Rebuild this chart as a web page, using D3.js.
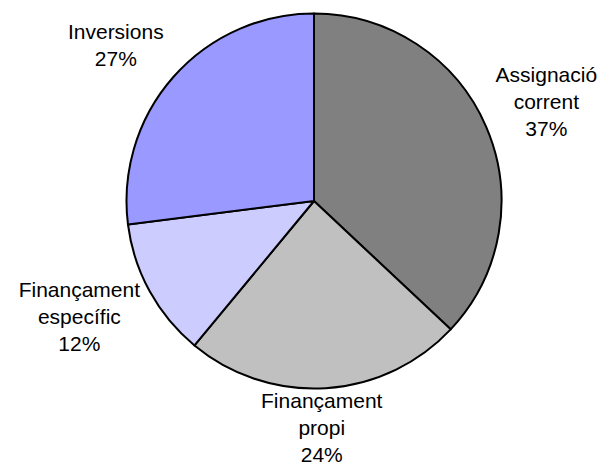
<!DOCTYPE html>
<html><head><meta charset="utf-8">
<script src="https://cdn.jsdelivr.net/npm/d3@7"></script>
<style>body{margin:0;background:#fff}svg{display:block}</style>
</head><body>
<script>
const categories = [["Assignació","corrent"],["Finançament","propi"],["Finançament","específic"],["Inversions"]];
const values = [37, 24, 12, 27];
const colors = ["#808080", "#C0C0C0", "#CCCCFF", "#9999FF"];

const W = 601, H = 465, cx = 314, cy = 201, R = 187.5;
const fs = 21, lh = 27;
// small layout nudges for label boxes (pixels)
const nudgeX = [0, -7, -4, -15], nudgeY = [1, -8, -11, 5];
const svg = d3.select("body").append("svg").attr("width", W).attr("height", H);
const g = svg.append("g").attr("transform", `translate(${cx},${cy})`);
const pie = d3.pie().sort(null).value(d => d)(values);
const arc = d3.arc().innerRadius(0).outerRadius(R);
g.selectAll("path").data(pie).join("path")
  .attr("d", arc).attr("fill", (d,i) => colors[i])
  .attr("stroke", "#000").attr("stroke-width", 2).attr("stroke-linejoin","round");

pie.forEach((d, i) => {
  const lines = categories[i].concat([values[i] + "%"]);
  const t = g.append("text").attr("font-family", "Liberation Sans, Arial, sans-serif")
    .attr("font-size", fs).attr("text-anchor", "middle").attr("fill", "#000");
  const ts = lines.map(l => t.append("tspan").text(l));
  const w = d3.max(ts, s => s.node().getComputedTextLength());
  const h = lines.length * lh;
  const a = (d.startAngle + d.endAngle) / 2;
  const sx = Math.sin(a), sy = -Math.cos(a);
  const dist = R + 3 + (w / 2) * Math.abs(sx) + (h / 2) * Math.abs(sy);
  const x = dist * sx + nudgeX[i], y = dist * sy + nudgeY[i];
  ts.forEach((s, k) => s.attr("x", x).attr("y", y - h / 2 + lh * k + lh / 2 + fs * 0.36));
});
</script>
</body></html>
